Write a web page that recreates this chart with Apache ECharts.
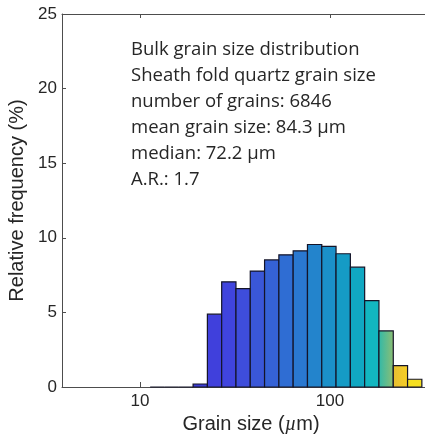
<!DOCTYPE html>
<html><head><meta charset="utf-8">
<script src="https://cdn.jsdelivr.net/npm/echarts@6/dist/echarts.min.js"></script>
<style>html,body{margin:0;padding:0;background:#fff}#c{width:425px;height:434px}</style>
</head><body><div id="c"></div>
<script>
// Histogram bin edges (µm, log-spaced) and relative frequency (%) per bin
const binEdges = [11.31, 13.45, 16.00, 19.03, 22.63, 26.91, 32.00, 38.05, 45.25, 53.82, 64.00, 76.11, 90.51, 107.6, 128.0, 152.2, 181.0, 215.3, 256.0, 304.4];
const frequency = [0, 0, 0, 0.2, 4.88, 7.05, 6.6, 7.77, 8.52, 8.86, 9.13, 9.55, 9.42, 8.93, 8.03, 5.79, 3.76, 1.43, 0.52];
const xTickValues = [10, 100];
const yTicks = [0, 5, 10, 15, 20, 25];
const infoLines = [
  'Bulk grain size distribution',
  'Sheath fold quartz grain size',
  'number of grains: 6846',
  'mean grain size: 84.3 µm',
  'median: 72.2 µm',
  'A.R.: 1.7'
];

const grad = (a, b) => new echarts.graphic.LinearGradient(0, 0, 1, 0, [{offset: 0, color: a}, {offset: 1, color: b}]);
const barColors = [
  '#3b3bd0', '#3b3bd0', '#3b3bd0', '#3d3dd4',
  '#4040dc', '#4044de', '#3e4ddb', '#3a57d8', '#3562d6', '#2f6dd3', '#2a78d0',
  '#2384cc', '#1b90c9', '#159bc5', '#10a7c2', '#12b6c0',
  grad('#2fb9aa', '#8fbe72'), grad('#e6bd32', '#f7cf26'), '#f6e022'
];

const barData = frequency.map((v, i) => [binEdges[i], binEdges[i + 1], v]);

const xMin = Math.pow(10, 0.5895);
const xMax = Math.pow(10, 2.5);
const axisCol = '#4d4d4d';
const txtCol = '#262626';

const chart = echarts.init(document.getElementById('c'), null, {renderer: 'canvas'});
chart.setOption({
  animation: false,
  backgroundColor: '#fff',
  grid: {left: 62, right: 0, top: 14, bottom: 47, containLabel: false, outerBoundsMode: 'none'},
  xAxis: [{
    type: 'log', logBase: 10, min: xMin, max: xMax, position: 'bottom',
    axisLine: {show: true, lineStyle: {color: axisCol, width: 1}},
    axisTick: {show: true, inside: true, length: 5, customValues: xTickValues, lineStyle: {color: axisCol}},
    minorTick: {show: false},
    axisLabel: {show: true, customValues: xTickValues, color: txtCol, fontSize: 17, fontFamily: 'Liberation Sans', margin: 6},
    splitLine: {show: false},
    name: '{a|Grain size (}{b|µ}{a|m)}',
    nameLocation: 'middle', nameGap: 22,
    nameTextStyle: {padding: [0, 0, 0, 15], rich: {
      a: {fontSize: 20, fontFamily: 'Liberation Sans', color: txtCol},
      b: {fontSize: 20, fontFamily: 'Liberation Serif', fontStyle: 'italic', color: txtCol}
    }}
  }, {
    type: 'log', logBase: 10, min: xMin, max: xMax, position: 'top',
    axisLine: {show: true, lineStyle: {color: axisCol, width: 1}},
    axisTick: {show: true, inside: true, length: 4, customValues: xTickValues, lineStyle: {color: axisCol}},
    axisLabel: {show: false},
    splitLine: {show: false}
  }],
  yAxis: {
    type: 'value', min: 0, max: 25, interval: 5,
    axisLine: {show: true, lineStyle: {color: axisCol, width: 1}},
    axisTick: {show: true, inside: true, length: 4, lineStyle: {color: axisCol}},
    axisLabel: {color: txtCol, fontSize: 17, fontFamily: 'Liberation Sans', margin: 5,
      formatter: v => yTicks.includes(v) ? String(v) : ''},
    splitLine: {show: false},
    name: 'Relative frequency (%)',
    nameLocation: 'middle', nameGap: 27,
    nameTextStyle: {fontSize: 20, fontFamily: 'Liberation Sans', color: txtCol}
  },
  graphic: [{
    type: 'text', left: 131, top: 37, z: 100,
    style: {text: infoLines.join('\n'), fontSize: 18.5, fontFamily: 'Open Sans', lineHeight: 26, fill: txtCol}
  }],
  series: [{
    type: 'custom',
    xAxisIndex: 0,
    data: barData,
    encode: {x: [0, 1], y: 2},
    clip: false,
    renderItem: function (params, api) {
      const lo = api.value(0), hi = api.value(1), v = api.value(2);
      const p0 = api.coord([lo, v]);
      const p1 = api.coord([hi, 0]);
      return {
        type: 'rect',
        shape: {x: p0[0], y: p0[1], width: p1[0] - p0[0], height: p1[1] - p0[1]},
        style: {fill: barColors[params.dataIndex], stroke: '#141428', lineWidth: 1.2}
      };
    }
  }]
});
</script></body></html>
